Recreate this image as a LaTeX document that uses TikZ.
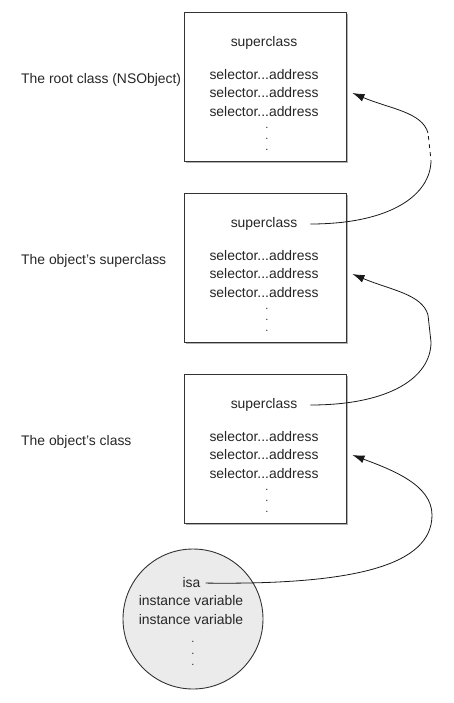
\documentclass[tikz,border=0pt]{standalone}
\usepackage{xcolor}
\usepackage{fontspec}
\setmainfont{Liberation Sans}
\usepackage{tikz}
\usetikzlibrary{arrows.meta, positioning, calc, shadows}

\begin{document}
\begin{tikzpicture}[
				x=1pt, y=-1pt,
				every node/.style={inner sep=0pt, align=center, text=black!85, font=\fontsize{13.9}{18.5}\selectfont},
				classbox/.style={draw=black!80, line width=0.9pt, fill=white, minimum width=162pt, minimum height=149pt, drop shadow={shadow xshift=1.6pt, shadow yshift=-1.6pt, fill=black!60, opacity=.5}},
				objcircle/.style={circle, draw=black!80, line width=0.9pt, fill=black!8, minimum size=140pt},
				ellip/.style={font=\fontsize{11}{11.2}\selectfont},
				link/.style={line width=0.8pt, draw=black!90},
				linkarrow/.style={link, -{Latex[length=12pt, width=8pt]}}
				]
				\useasboundingbox (0,0) rectangle (454,703);
				\foreach \n/\lbl/\dy in {root/{The root class (NSObject)}/0, super/{The object's superclass}/181, class/{The object's class}/362} {
					\node[classbox] (\n) at (265,86.5+\dy) {};
					\node[anchor=west] (\n-lbl) at (21,80+\dy) {\lbl};
					\node (\n-sc) at (264,43+\dy) {superclass};
					\node (\n-sel) at (264,93+\dy) {selector...address\\selector...address\\selector...address};
					\node[ellip, below=10pt of \n-sel, xshift=3pt] (\n-dots) {.\\.\\.};
					\coordinate (\n-in) at ($(\n.east |- \n-sel)+(6,0)$);
				}
				\node[objcircle] (obj) at (193,619) {};
				\node (isa) at (191.5,583) {isa};
				\node (ivars) at (191,610) {instance variable\\instance variable};
				\node[ellip, below=17pt of ivars, xshift=2pt] (obj-dots) {.\\.\\.};
				\coordinate (gap-a) at (431,160);
				\coordinate (gap-b) at (428,133);
				\draw[linkarrow, shorten <=5pt] (isa.east) .. controls +(155,2) and +(0,50) .. (432,515) .. controls +(0,-30) and +(40,15) .. (class-in);
				\draw[linkarrow, shorten <=13pt] (class-sc.east) .. controls +(93,0) and +(0,35) .. (431,342) -- (428,315) .. controls +(-6,-21) and +(38,16) .. (super-in);
				\draw[link, shorten <=13pt] (super-sc.east) .. controls +(93,0) and +(0,35) .. (gap-a);
				\draw[link, dash pattern=on 4pt off 4pt, dash phase=4pt] (gap-a) -- (gap-b);
				\draw[linkarrow] (gap-b) .. controls +(-6,-21) and +(38,16) .. (root-in);
			\end{tikzpicture}
\end{document}
